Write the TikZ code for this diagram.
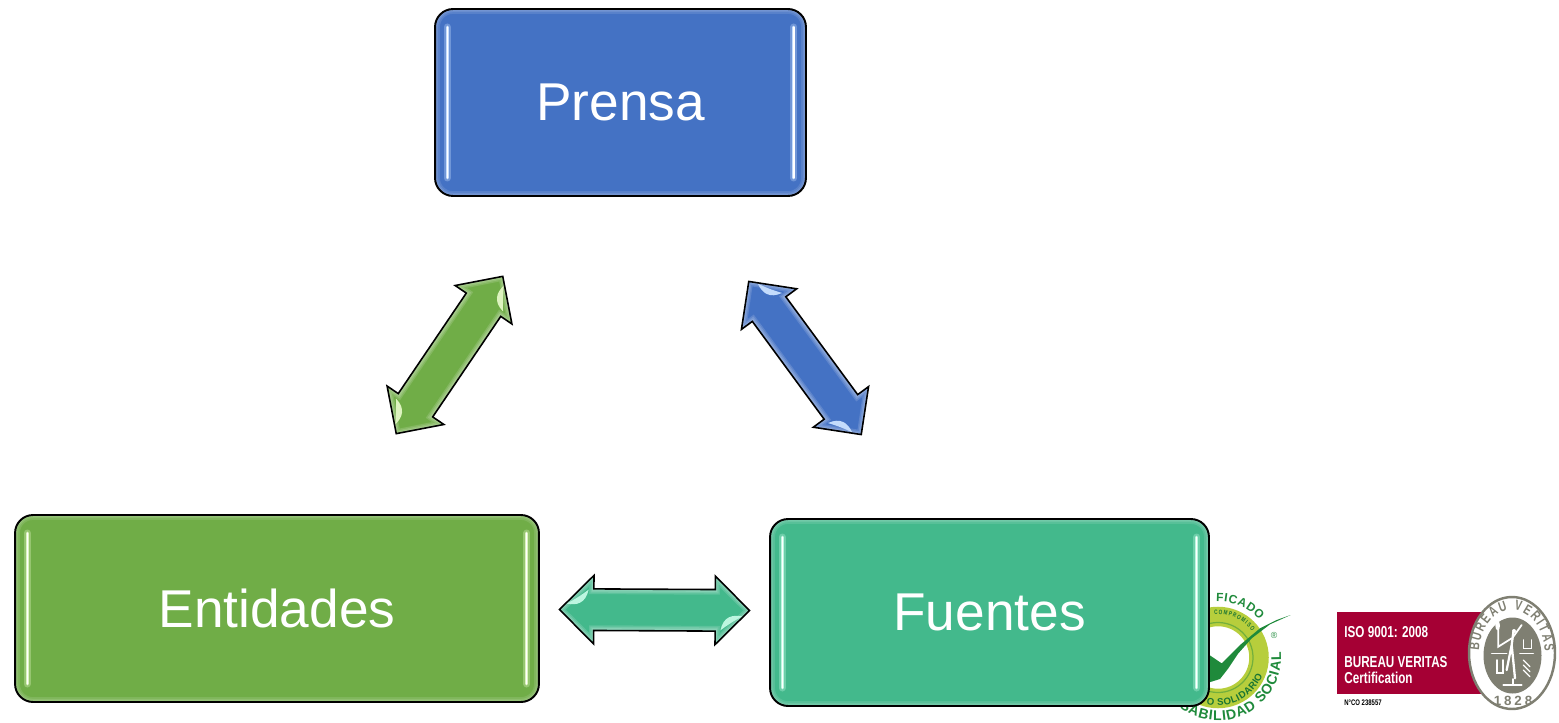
\documentclass[tikz,border=0pt]{standalone}
\usepackage{fontspec}
\setmainfont{Liberation Sans}
\newfontfamily\logofont[FakeStretch=.74]{Liberation Sans}
\newfontfamily\yearfont[LetterSpace=22]{Liberation Sans}
\usepackage{tikz}
\usetikzlibrary{shapes.arrows,decorations.text,calc}

\definecolor{bluebox}{HTML}{4472C4}
\definecolor{greenbox}{HTML}{70AD47}
\definecolor{tealbox}{HTML}{43B98C}
\definecolor{bluelite}{HTML}{C4DCFC}
\definecolor{greenlite}{HTML}{DDF3BF}
\definecolor{teallite}{HTML}{BDF6E0}
\definecolor{bvred}{HTML}{A50034}
\definecolor{bvgray}{HTML}{7F7F72}
\definecolor{sealgreen}{HTML}{1F8A3B}
\definecolor{sealring}{HTML}{B7CE3C}

\tikzset{
	gelbox/.style 2 args={draw=black,line width=1.1pt,rounded corners=.36cm,fill=#1,
		text=white,font=\fontsize{30.3}{36}\selectfont,inner sep=0pt,minimum height=3.74cm,
		path picture={
			\foreach \w in {5.5,3.6,1.8}
				\draw[white,opacity=.11,line width=\w pt,rounded corners=.36cm]
					(path picture bounding box.south west) rectangle (path picture bounding box.north east);
			\foreach \w/\o/\c in {4/.35/#2,1.7/1/#2,.6/1/white}
				\draw[\c,opacity=\o,line width=\w pt,line cap=round]
					([xshift=.24cm,yshift=-.36cm]path picture bounding box.north west)
					-- ([xshift=.24cm,yshift=.36cm]path picture bounding box.south west)
					([xshift=-.24cm,yshift=-.36cm]path picture bounding box.north east)
					-- ([xshift=-.24cm,yshift=.36cm]path picture bounding box.south east);
		}},
	gelarrow/.style 2 args={double arrow,draw=black,line width=.9pt,fill=#1,inner xsep=0pt,inner ysep=.4cm,
		minimum width=1.34cm,minimum height=3.8cm,double arrow head extend=.27cm,
		double arrow tip angle=90,
		path picture={
			\begin{scope}[x=.02cm,y=.02cm,shift={(path picture bounding box.center)}]
				\foreach \w in {5,3.4,1.8}
					\draw[white,opacity=.14,line width=\w pt]
						(-95,0) -- (-61,33.5) -- (-61,20) -- (61,20) -- (61,33.5) -- (95,0)
						-- (61,-33.5) -- (61,-20) -- (-61,-20) -- (-61,-33.5) -- cycle;
				\fill[#2] (66,-20) .. controls (74,-14) and (80,-10) .. (88,-6)
					.. controls (78,-4) and (69,-6) .. (66,-20) -- cycle;
				\fill[#2] (-66,20) .. controls (-74,14) and (-80,10) .. (-88,6)
					.. controls (-78,4) and (-69,6) .. (-66,20) -- cycle;
			\end{scope}
		}},
	sealtext/.style 2 args={decorate,decoration={text along path,text align={fit to path},
		text={|#1|#2}}},
	logotext/.style={text=white,font=\logofont\fontsize{9}{10}\bfseries\selectfont,anchor=west,inner sep=0pt},
}

\begin{document}
\begin{tikzpicture}[x=.02cm,y=-.02cm]
	\useasboundingbox (0,0) rectangle (1559,723);

	% green seal, half under the box
	\begin{scope}[shift={(1218,657.5)},x=.02cm,y=.02cm]
		\draw[sealring,line width=.39cm] (0,0) circle (41);
		\draw[sealgreen!45!sealring,line width=.7pt] (0,0) circle (35);
		\path[sealtext={\bfseries\fontsize{8}{9}\selectfont\color{sealgreen}}{SABILIDAD SOCIAL}] (-128:63) arc (-128:5:63);
		\path[sealtext={\bfseries\fontsize{5.5}{7}\selectfont\color{sealgreen!85!black}}{O SOLIDARIO}] (-104:48) arc (-104:-22:48);
		\path[sealtext={\bfseries\fontsize{6.8}{8}\selectfont\color{sealgreen}}{FICADO}] (92:56) arc (92:42:56);
		\path[sealtext={\logofont\fontsize{3.6}{4}\bfseries\selectfont\color{sealgreen!85!black}}{COMPROMISO}] (95:43) arc (95:38:43);
	\end{scope}
	\node[text=sealgreen,font=\fontsize{5}{6}\selectfont,inner sep=0pt] (R) at (1274,635) {®};
	\begin{scope}[shift={(1170,585)},x=.00667cm,y=-.00667cm]
		\fill[sealgreen] (362,90) -- (320,105) -- (270,130) -- (210,180) -- (155,235) -- (118,210)
			-- (118,292) -- (150,282) -- (175,250) -- (205,205) -- (245,160) -- (300,118) -- cycle;
	\end{scope}

	% bureau veritas logo
	\fill[bvred] (1337,612) rectangle (1490,694);
	\node[logotext] (I) at (1344,632) {ISO 9001: 2008};
	\node[logotext] (B) at (1344,662) {BUREAU VERITAS};
	\node[logotext] (T) at (1344,678) {Certification};
	\node[text=black,font=\logofont\fontsize{4.6}{5}\bfseries\selectfont,anchor=west,inner sep=0pt] (N) at (1344,703) {N°CO 238557};
	\draw[bvgray,fill=white,line width=1.4pt] (1512,653) ellipse (43 and 56);
	\fill[bvgray] (1512.5,655.5) ellipse (29 and 38);
	\begin{scope}[shift={(1512,653)},x=.02cm,y=.02cm]
		\path[sealtext={\logofont\bfseries\fontsize{8}{9}\selectfont\color{bvgray}}{BUREAU VERITAS}] (-33,2) arc[start angle=176,end angle=4,x radius=33,y radius=44];
	\end{scope}
	\node[text=bvgray,font=\yearfont\fontsize{7.6}{9}\bfseries\selectfont,inner sep=0pt] (Y) at (1513,701) {1828};
	\begin{scope}[shift={(1465,595)},x=.00667cm,y=-.00667cm,white,line cap=round]
		\draw[line width=.9pt] (80,175) -- (125,175) (165,175) -- (205,175);
		\draw[line width=1.3pt] (145,112) -- (140,150) -- (125,225) (140,150) -- (150,250);
		\draw[line width=1pt] (145,125) -- (170,90) (140,130) -- (100,155) -- (100,100);
		\fill (147,108) circle (6);
		\fill (98,92) ellipse (7 and 14);
		\draw[line width=.9pt] (175,135) -- (175,160) -- (200,160) -- (200,135);
		\draw[line width=1pt] (95,195) -- (95,235) -- (115,235) -- (115,195);
		\draw[line width=.7pt] (175,195) -- (195,215) (175,210) -- (195,230) (175,225) -- (195,245);
		\draw[line width=1pt] (115,270) -- (170,270) (143,252) -- (143,270);
	\end{scope}

	\begin{scope}[every node/.style={gelbox={bluebox}{bluelite}}]
		\node[minimum width=7.42cm] (P) at (620.5,102.5) {Prensa};
	\end{scope}
	\begin{scope}[every node/.style={gelbox={greenbox}{greenlite}}]
		\node[minimum width=10.48cm] (E) at (277,608.5) {Entidades};
	\end{scope}
	\begin{scope}[every node/.style={gelbox={tealbox}{teallite}}]
		\node[minimum width=8.78cm] (F) at (989.5,612.5) {Fuentes};
	\end{scope}

	\node[gelarrow={greenbox}{greenlite},rotate=55.9] (PE) at (449.5,355) {};
	\node[gelarrow={bluebox}{bluelite},rotate=126.3] (PF) at (805,358) {};
	\node[gelarrow={tealbox}{teallite},rotate=-.3] (EF) at (654.5,610) {};
\end{tikzpicture}
\end{document}
